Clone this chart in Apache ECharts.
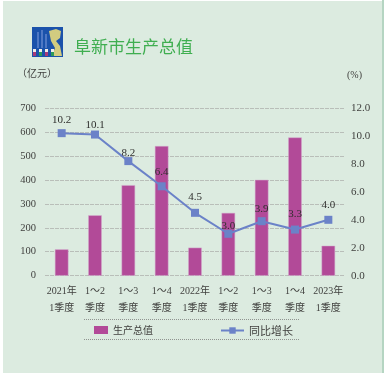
<!DOCTYPE html>
<html>
<head>
<meta charset="utf-8">
<style>
html,body{margin:0;padding:0;background:#fff}
#main{width:384px;height:373px}
</style>
<script src="https://cdn.jsdelivr.net/npm/echarts@6/dist/echarts.min.js"></script>
</head>
<body>
<div id="main"></div>
<script>
var categories = ['2021年\n1季度','1～2\n季度','1～3\n季度','1～4\n季度','2022年\n1季度','1～2\n季度','1～3\n季度','1～4\n季度','2023年\n1季度'];
var gdpValues = [110,252,378,541,117,262,400,577,125];
var growthValues = [10.2,10.1,8.2,6.4,4.5,3.0,3.9,3.3,4.0];
var seriesNames = ['生产总值','同比增长'];
// 数值标签离点的距离
var labelGaps = [4,0,-1.5,4.5,6.5,-1.5,2.5,5.5,5.5];

var fontFamily = '"Liberation Serif","Noto Sans CJK SC",serif';
var textColor = '#3f3f3d';

var myChart = echarts.init(document.getElementById('main'), null, {renderer:'canvas'});

var growthData = growthValues.map(function(v,i){
	return {value:v, label:{distance:labelGaps[i]}};
});

var option = {
	backgroundColor: '#fff',
	animation: false,
	textStyle: {fontFamily: fontFamily},
	graphic: [
		{type:'rect', z:-10, shape:{x:3,y:1,width:379,height:372}, style:{fill:'#dcebe0'}},
		{type:'rect', z:-10, shape:{x:382,y:0,width:2,height:373}, style:{fill:'#b5d5c2'}},
		// 标志
		{type:'rect', shape:{x:32,y:27,width:31,height:30}, style:{fill:'#1b52ab'}},
		{type:'rect', shape:{x:37,y:32,width:2,height:16}, style:{fill:'#4f78c4'}},
		{type:'rect', shape:{x:41,y:30,width:2,height:18}, style:{fill:'#4f78c4'}},
		{type:'rect', shape:{x:45,y:34,width:2,height:14}, style:{fill:'#4f78c4'}},
		{type:'polygon', shape:{points:[[49,31],[56,29],[61,31],[60,38],[56,41],[60,46],[62,56],[52,56],[55,48],[51,41]]}, style:{fill:'#d2cc80'}},
		{type:'rect', shape:{x:33,y:49,width:3,height:3}, style:{fill:'#f0ece8'}},
		{type:'rect', shape:{x:33,y:52,width:3,height:4}, style:{fill:'#a83a78'}},
		{type:'rect', shape:{x:39,y:49,width:3,height:3}, style:{fill:'#f0ece8'}},
		{type:'rect', shape:{x:39,y:52,width:3,height:4}, style:{fill:'#2c9a5a'}},
		{type:'rect', shape:{x:45,y:49,width:3,height:3}, style:{fill:'#f0ece8'}},
		{type:'rect', shape:{x:45,y:52,width:3,height:4}, style:{fill:'#a83a78'}},
		{type:'rect', shape:{x:51,y:49,width:3,height:3}, style:{fill:'#f0ece8'}},
		{type:'rect', shape:{x:51,y:52,width:3,height:4}, style:{fill:'#2c9a5a'}},
		// 图例上下的点线
		{type:'line', shape:{x1:84,y1:319.5,x2:299,y2:319.5}, style:{stroke:'#8f938f',lineWidth:1,lineDash:[1,1]}},
		{type:'line', shape:{x1:84,y1:339.5,x2:299,y2:339.5}, style:{stroke:'#8f938f',lineWidth:1,lineDash:[1,1]}},
		// 标题和单位
		{type:'text', x:74, y:38, style:{text:'阜新市生产总值', fill:'#3fae50', font:'400 17px "Noto Sans CJK SC"', letterSpacing:0.3}},
		{type:'text', x:17, y:68, style:{text:'（亿元）', fill:textColor, font:'10px "Noto Sans CJK SC"'}},
		{type:'text', x:347, y:70, style:{text:'(%)', fill:textColor, font:'10px "Liberation Serif"'}}
	],
	grid: {left:45, right:39, top:108, height:167.7, containLabel:false},
	legend: [
		{
			data:[{name:seriesNames[0], icon:'rect', itemStyle:{borderWidth:0}}],
			left:94, top:325, padding:0, itemWidth:14, itemHeight:8,
			textStyle:{color:textColor, fontSize:10, fontFamily:'"Noto Sans CJK SC"'}
		},
		{
			data:[{name:seriesNames[1]}],
			left:220, top:325, padding:0, itemWidth:23, itemHeight:8,
			textStyle:{color:textColor, fontSize:11, fontFamily:'"Noto Sans CJK SC"'}
		}
	],
	xAxis: {
		type:'category',
		data:categories,
		axisLine:{show:false},
		axisTick:{show:false},
		axisLabel:{interval:0, color:textColor, fontSize:10, lineHeight:17, margin:7, fontFamily:fontFamily}
	},
	yAxis: [
		{
			type:'value', min:0, max:700, interval:100,
			axisLine:{show:false}, axisTick:{show:false},
			axisLabel:{color:textColor, fontSize:10.5, margin:9},
			splitLine:{show:true, lineStyle:{color:'#b9beb9', type:[4,1], width:1}}
		},
		{
			type:'value', min:0, max:12, interval:2,
			axisLine:{show:false}, axisTick:{show:false},
			axisLabel:{color:textColor, fontSize:11, margin:6, formatter:function(v){return v.toFixed(1)}},
			splitLine:{show:false}
		}
	],
	series: [
		{
			name:seriesNames[0], type:'bar', data:gdpValues, barWidth:13.5,
			itemStyle:{color:'#b24a98', borderColor:'#d3a9cc', borderWidth:0.5}
		},
		{
			name:seriesNames[1], type:'line', yAxisIndex:1, data:growthData,
			symbol:'rect', symbolSize:8,
			lineStyle:{color:'#6b82c8', width:2},
			itemStyle:{color:'#6b82c8'},
			label:{show:true, position:'top', color:'#2f2f2d', fontSize:11, fontFamily:fontFamily,
				formatter:function(p){return p.value.toFixed(1)}}
		}
	]
};

myChart.setOption(option);
</script>
</body>
</html>
